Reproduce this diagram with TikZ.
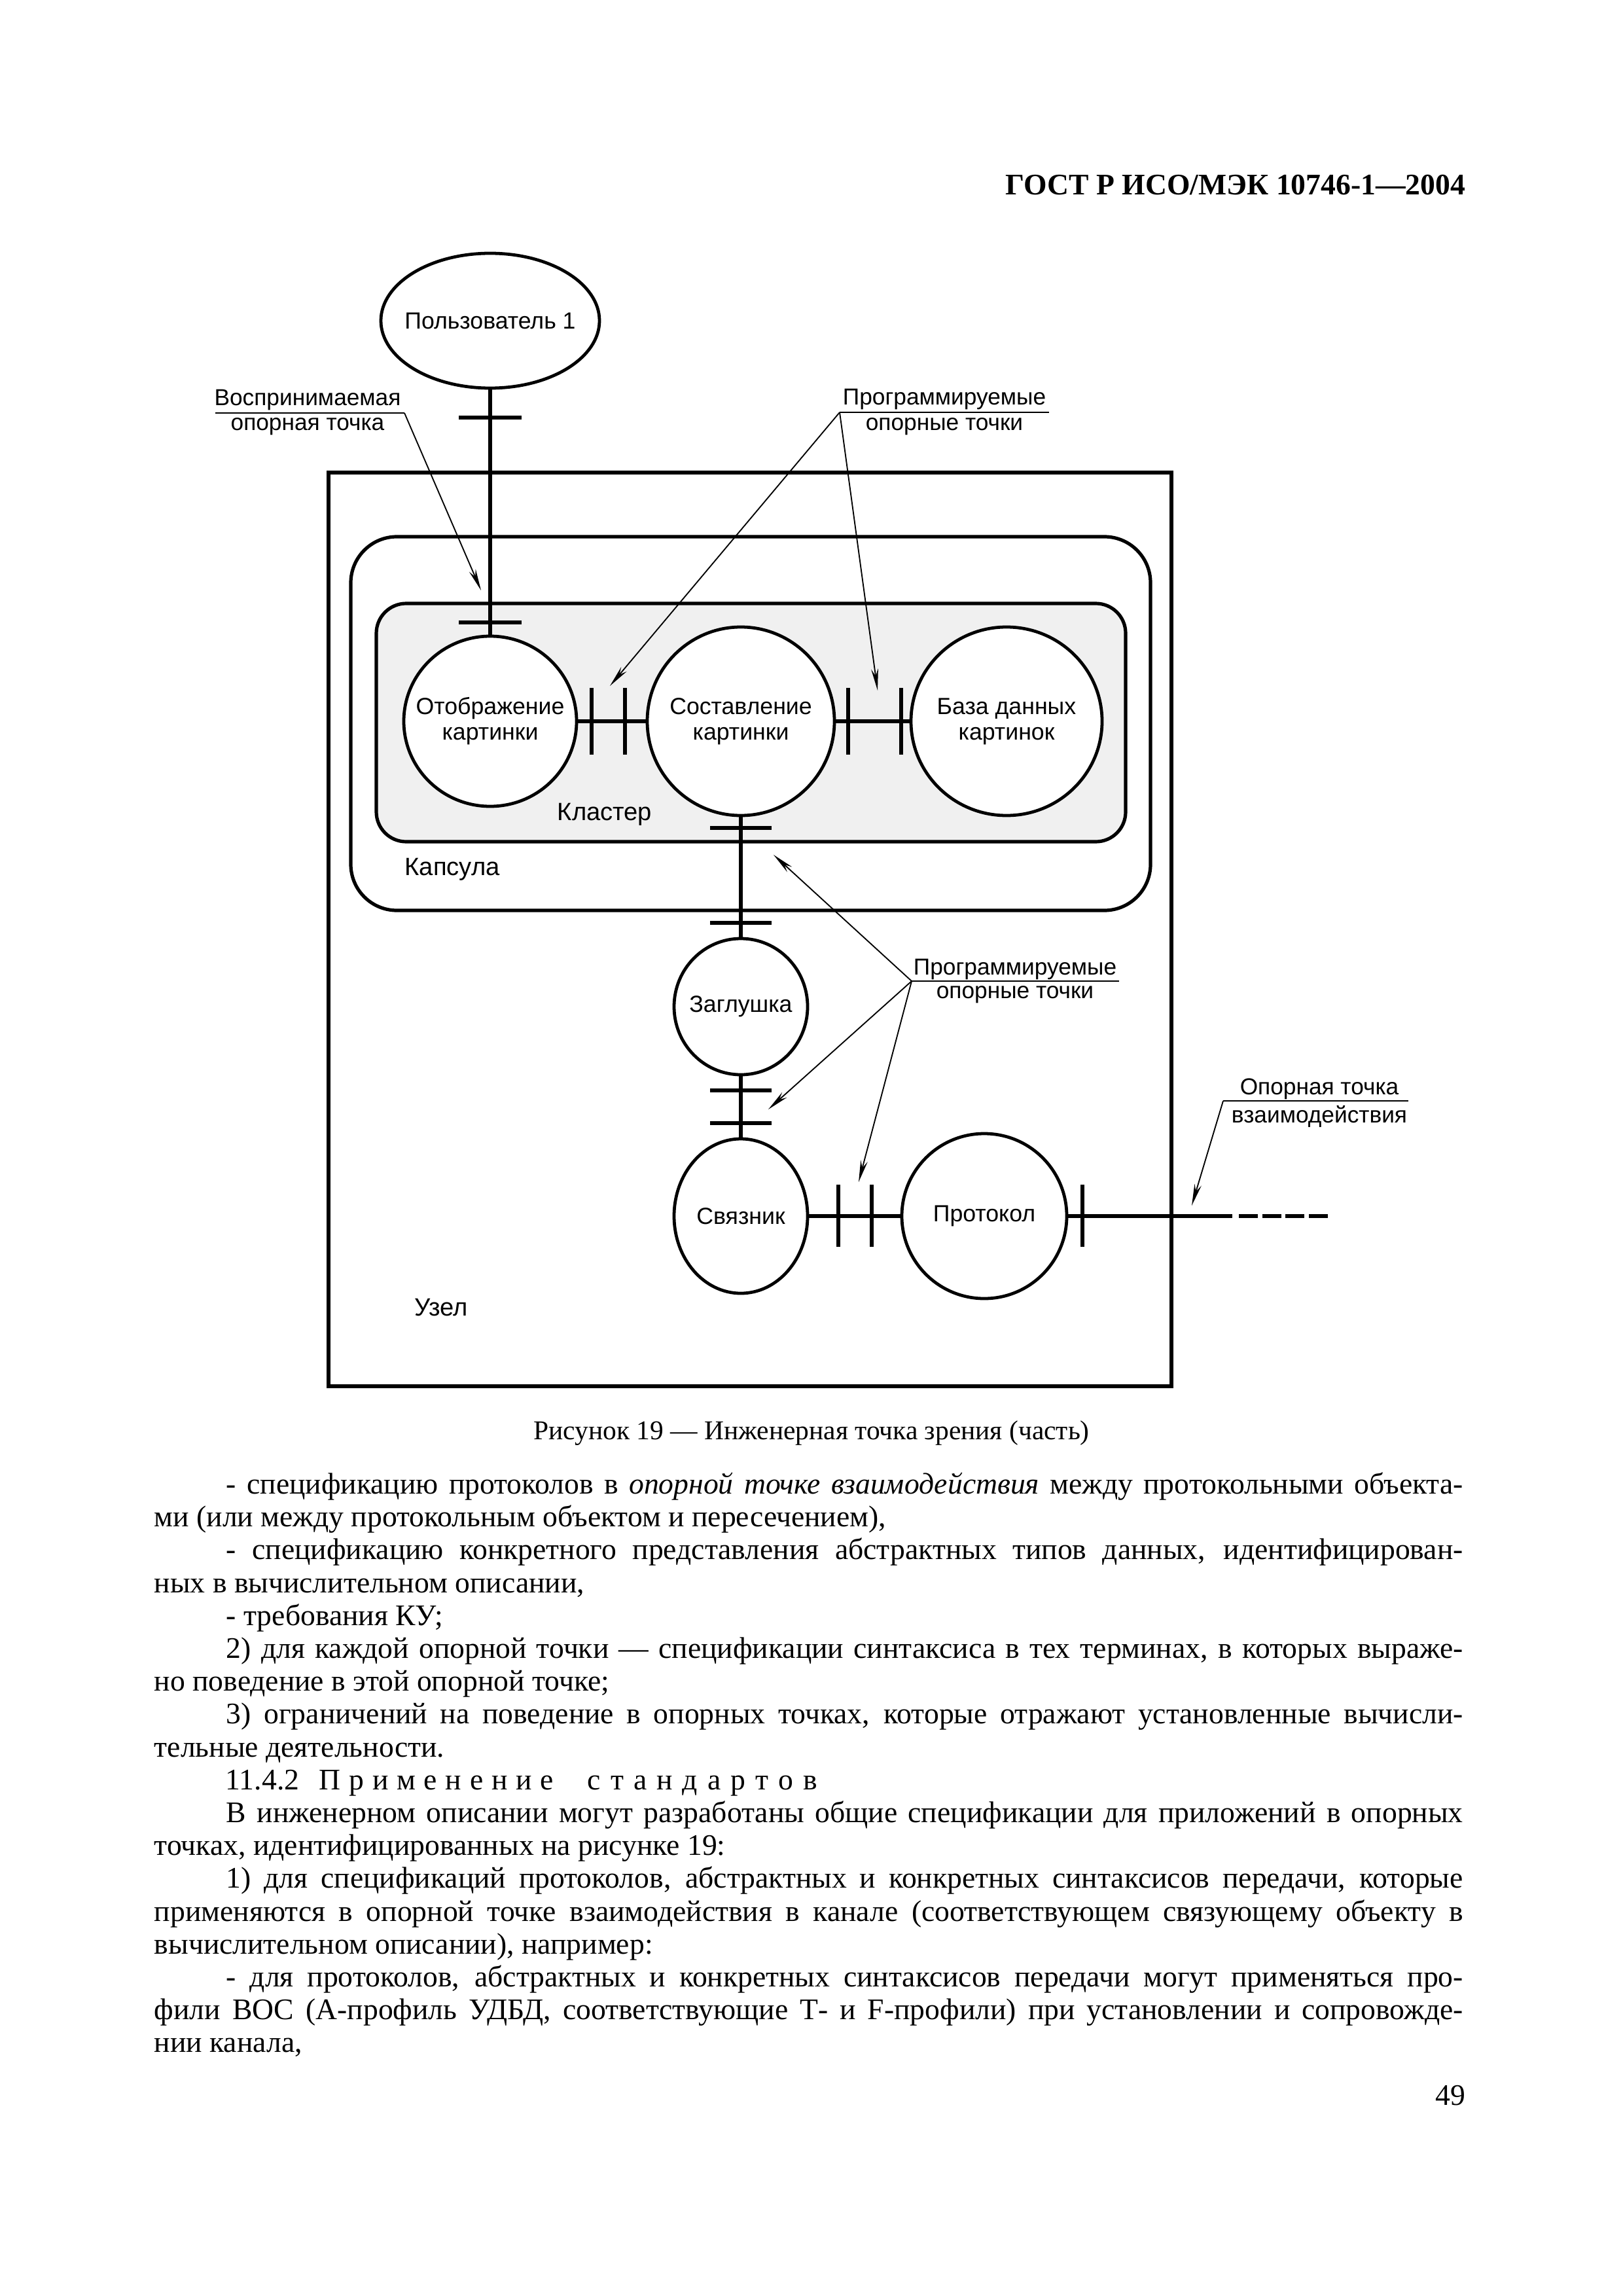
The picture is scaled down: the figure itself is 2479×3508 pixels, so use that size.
\documentclass[tikz,border=0pt]{standalone}
\usepackage{fontspec}
\setmainfont{Liberation Serif}
\newfontfamily\sansf{Liberation Sans}
\usetikzlibrary{shapes.geometric,arrows.meta}
\newlength\pxu
\setlength\pxu{0.24102pt}
\newcommand\jl[4]{\node[body] (#1) at (#2) {\makebox[#3\pxu][s]{#4}};}
\newcommand\pl[3]{\node[body] (#1) at (#2) {#3};}
\begin{document}
\begin{tikzpicture}[x=0.24102pt,y=-0.24102pt,
  thickline/.style={line width=1.25pt},
  tickln/.style={line width=1.25pt},
  ell/.style={ellipse, draw, line width=1.15pt, inner sep=0pt, fill=white},
  lead/.style={line width=0.45pt},
  leadarrow/.style={line width=0.45pt, -{Stealth[length=8pt,width=2.6pt]}},
  lbl/.style={font=\sansf\fontsize{8.5}{9.5}\selectfont, inner sep=0pt, anchor=base},
  etxt/.style={font=\sansf\fontsize{8.6}{9.4}\selectfont, inner sep=0pt, align=center},
  big/.style={font=\sansf\fontsize{9.2}{10}\selectfont, inner sep=0pt, anchor=base},
  body/.style={font=\fontsize{11}{12}\selectfont, inner sep=0pt, anchor=base west}]
\useasboundingbox (0,0) rectangle (2479,3508);
\fill[white] (0,0) rectangle (2479,3508);

% header
\node[font=\bfseries\fontsize{11}{13}\selectfont, anchor=base east, inner sep=0pt] (hdr) at (2240,298) {ГОСТ Р ИСО/МЭК 10746-1—2004};

% containers
\draw[thickline, fill=black!6, rounded corners=11pt] (575,922) rectangle (1720,1286);
\draw[thickline, rounded corners=17pt] (536,820) rectangle (1758,1391);
\draw[thickline] (502,722) rectangle (1790,2118);

% ellipses
\node[ell, minimum width=334\pxu, minimum height=206\pxu] (user) at (749,490) {};
\node[ell, minimum width=264\pxu, minimum height=260\pxu] (disp) at (749,1102) {};
\node[ell, minimum width=286\pxu, minimum height=288\pxu] (comp) at (1132,1102) {};
\node[ell, minimum width=292\pxu, minimum height=288\pxu] (db) at (1538,1102) {};
\node[ell, minimum width=204\pxu, minimum height=208\pxu] (stub) at (1132,1538) {};
\node[ell, minimum width=204\pxu, minimum height=236\pxu] (link) at (1132,1858) {};
\node[ell, minimum width=252\pxu, minimum height=252\pxu] (proto) at (1504,1858) {};

\node[etxt] (userT) at (user.center) {Пользователь 1};
\node[etxt] (dispT) at (disp.center) {Отображение\\картинки};
\node[etxt] (compT) at (comp.center) {Составление\\картинки};
\node[etxt] (dbT) at (db.center) {База данных\\картинок};
\node[etxt] (stubT) at (stub.center) {Заглушка};
\node[etxt] (linkT) at (link.center) {Связник};
\node[etxt] (protoT) at (proto.center) {Протокол};

% connectors
\coordinate (ext) at (1883,1858);
\coordinate (dashA) at (1893,1858);
\coordinate (dashB) at (2029,1858);
\draw[thickline] (user.south) -- (disp.north);
\draw[thickline] (disp.east) -- (comp.west);
\draw[thickline] (comp.east) -- (db.west);
\draw[thickline] (comp.south) -- (stub.north);
\draw[thickline] (stub.south) -- (link.north);
\draw[thickline] (link.east) -- (proto.west);
\draw[thickline] (proto.east) -- (ext);
\draw[thickline, dash pattern=on 7pt off 1.6pt] (dashA) -- (dashB);

% ticks
\draw[tickln] (701,638) -- (797,638);
\draw[tickln] (701,951) -- (797,951);
\draw[tickln] (1085,1265) -- (1179,1265);
\draw[tickln] (1085,1410) -- (1179,1410);
\draw[tickln] (1085,1666) -- (1179,1666);
\draw[tickln] (1085,1716) -- (1179,1716);
\draw[tickln] (904,1051) -- (904,1153);
\draw[tickln] (955,1051) -- (955,1153);
\draw[tickln] (1296,1051) -- (1296,1153);
\draw[tickln] (1377,1051) -- (1377,1153);
\draw[tickln] (1281,1810) -- (1281,1905);
\draw[tickln] (1332,1810) -- (1332,1905);
\draw[tickln] (1654,1810) -- (1654,1905);

% region labels
\node[big] (klT) at (924,1253) {Кластер};
\node[big] (kapT) at (691,1337) {Капсула};
\node[big] (uzT) at (674,2010) {Узел};

% callouts
\node[lbl] (la1) at (470,620) {Воспринимаемая};
\node[lbl] (la2) at (470,658) {опорная точка};
\coordinate (laL) at (329,631); \coordinate (laR) at (618,631); \coordinate (laT) at (735,902);
\draw[lead] (laL) -- (laR);
\draw[leadarrow] (laR) -- (laT);

\node[lbl] (pu1) at (1443,619) {Программируемые};
\node[lbl] (pu2) at (1443,658) {опорные точки};
\coordinate (puL) at (1283,630); \coordinate (puR) at (1603,630);
\coordinate (puT1) at (932,1048); \coordinate (puT2) at (1341,1055);
\draw[lead] (puL) -- (puR);
\draw[leadarrow] (puL) -- (puT1);
\draw[leadarrow] (puL) -- (puT2);

\node[lbl] (pl1) at (1551,1489) {Программируемые};
\node[lbl] (pl2) at (1551,1525) {опорные точки};
\coordinate (plL) at (1393,1499); \coordinate (plR) at (1710,1499);
\coordinate (plT1) at (1182,1306); \coordinate (plT2) at (1174,1695); \coordinate (plT3) at (1312,1806);
\draw[lead] (plL) -- (plR);
\draw[leadarrow] (plL) -- (plT1);
\draw[leadarrow] (plL) -- (plT2);
\draw[leadarrow] (plL) -- (plT3);

\node[lbl] (oi1) at (2016,1672) {Опорная точка};
\node[lbl] (oi2) at (2016,1715) {взаимодействия};
\coordinate (oiL) at (1869,1682); \coordinate (oiR) at (2152,1682); \coordinate (oiT) at (1821,1842);
\draw[lead] (oiL) -- (oiR);
\draw[leadarrow] (oiL) -- (oiT);

% caption
\node[font=\fontsize{10}{12}\selectfont, anchor=base, inner sep=0pt] (cap) at (1240,2199) {Рисунок 19 — Инженерная точка зрения (часть)};

% body text
\jl{t1}{345,2282}{1890}{- спецификацию протоколов в \textit{опорной точке взаимодействия} между протокольными объекта-}
\pl{t2}{235,2332}{ми (или между протокольным объектом и пересечением),}
\jl{t3}{345,2382}{1890}{- спецификацию конкретного представления абстрактных типов данных, идентифицирован-}
\pl{t4}{235,2433}{ных в вычислительном описании,}
\pl{t5}{345,2483}{- требования КУ;}
\jl{t6}{345,2533}{1890}{2) для каждой опорной точки — спецификации синтаксиса в тех терминах, в которых выраже-}
\pl{t7}{235,2583}{но поведение в этой опорной точке;}
\jl{t8}{345,2633}{1890}{3) ограничений на поведение в опорных точках, которые отражают установленные вычисли-}
\pl{t9}{235,2684}{тельные деятельности.}
\pl{t10a}{344,2734}{11.4.2}
\node[body] (t10b) at (487,2734) {\makebox[358\pxu][s]{П р и м е н е н и е}};
\node[body] (t10c) at (897,2734) {\makebox[351\pxu][s]{с т а н д а р т о в}};
\jl{t11}{345,2784}{1890}{В инженерном описании могут разработаны общие спецификации для приложений в опорных}
\pl{t12}{235,2834}{точках, идентифицированных на рисунке 19:}
\jl{t13}{345,2884}{1890}{1) для спецификаций протоколов, абстрактных и конкретных синтаксисов передачи, которые}
\jl{t14}{235,2935}{2000}{применяются в опорной точке взаимодействия в канале (соответствующем связующему объекту в}
\pl{t15}{235,2985}{вычислительном описании), например:}
\jl{t16}{345,3035}{1890}{- для протоколов, абстрактных и конкретных синтаксисов передачи могут применяться про-}
\jl{t17}{235,3085}{2000}{фили ВОС (А-профиль УДБД, соответствующие Т- и F-профили) при установлении и сопровожде-}
\pl{t18}{235,3135}{нии канала,}
\node[font=\fontsize{11}{12}\selectfont, anchor=base east, inner sep=0pt] (pg) at (2240,3216) {49};
\end{tikzpicture}
\end{document}
